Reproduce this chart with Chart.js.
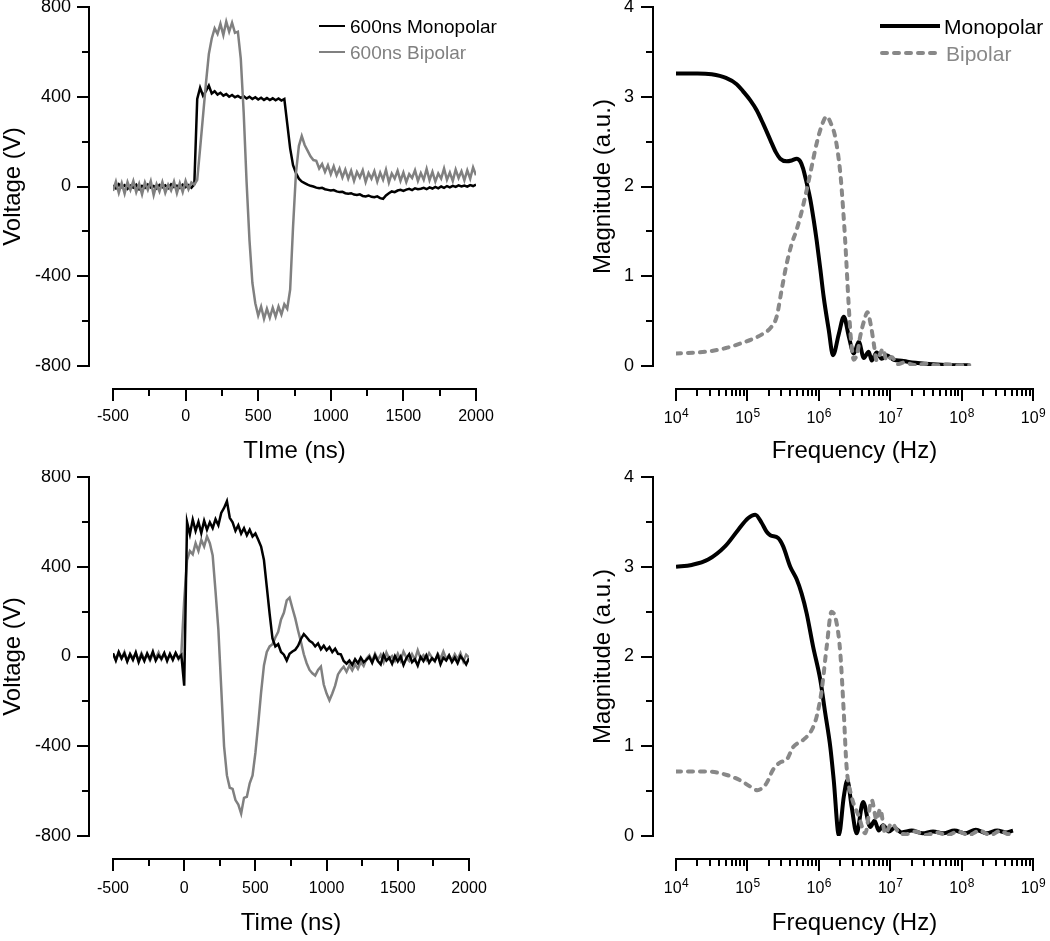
<!DOCTYPE html>
<html><head><meta charset="utf-8">
<script src="https://cdn.jsdelivr.net/npm/chart.js@4.4.1/dist/chart.umd.min.js"></script>
<style>
html,body{margin:0;padding:0;background:#fff;}
body{width:1050px;height:941px;position:relative;overflow:hidden;font-family:"Liberation Sans",Arial,Helvetica,sans-serif;}
.panel{position:absolute;}
.panel canvas{display:block;}
.lg{position:absolute;white-space:nowrap;line-height:1;}
.ls{position:absolute;}
</style></head><body>
<div class="panel" style="left:0;top:0"><canvas id="cTL" width="525" height="470"></canvas></div>
<div class="panel" style="left:525px;top:0"><canvas id="cTR" width="525" height="470"></canvas></div>
<div class="panel" style="left:0;top:470px"><canvas id="cBL" width="525" height="471"></canvas></div>
<div class="panel" style="left:525px;top:470px"><canvas id="cBR" width="525" height="471"></canvas></div>

<div class="ls" style="left:319px;top:25px;width:26px;height:2px;background:#000"></div>
<div class="lg" style="left:350px;top:16.5px;font-size:19px;color:#000">600ns Monopolar</div>
<div class="ls" style="left:319px;top:51px;width:26px;height:2px;background:#808080"></div>
<div class="lg" style="left:350px;top:43px;font-size:19px;color:#808080">600ns Bipolar</div>

<div class="ls" style="left:880px;top:24px;width:60px;height:4px;background:#000"></div>
<div class="lg" style="left:944px;top:15.5px;font-size:21px;color:#000">Monopolar</div>
<svg class="ls" style="left:880px;top:51px" width="60" height="4"><line x1="2" y1="2" x2="58" y2="2" stroke="#888" stroke-width="4" stroke-linecap="round" stroke-dasharray="5 7"/></svg>
<div class="lg" style="left:946px;top:43px;font-size:21px;color:#888">Bipolar</div>

<script>
// ---------------- DATA ----------------
const timeNs = [
  -500,-480,-460,-440,-420,-400,-380,-360,-340,-320,
  -300,-280,-260,-240,-220,-200,-180,-160,-140,-120,
  -100,-80,-60,-40,-20,0,20,40,60,80,
  100,120,140,160,180,200,220,240,260,280,
  300,320,340,360,380,400,420,440,460,480,
  500,520,540,560,580,600,620,640,660,680,
  700,720,740,760,780,800,820,840,860,880,
  900,920,940,960,980,1000,1020,1040,1060,1080,
  1100,1120,1140,1160,1180,1200,1220,1240,1260,1280,
  1300,1320,1340,1360,1380,1400,1420,1440,1460,1480,
  1500,1520,1540,1560,1580,1600,1620,1640,1660,1680,
  1700,1720,1740,1760,1780,1800,1820,1840,1860,1880,
  1900,1920,1940,1960,1980,2000
];

// Top-left: 600 ns pulses (V)
const tlMonopolarV = [
  5,-8,10,-3,6,-10,4,-5,8,-12,
  3,-6,9,-4,2,-9,7,-3,5,-7,
  10,-2,4,-6,8,-3,6,-5,10,390,
  440,405,425,450,415,425,410,418,405,412,
  400,408,398,404,395,402,392,400,390,398,
  388,396,386,394,385,393,384,392,383,390,
  280,170,95,60,35,22,15,8,3,0,
  -5,-8,-6,-12,-15,-18,-16,-22,-25,-24,
  -30,-32,-30,-36,-38,-35,-42,-44,-40,-46,
  -48,-44,-52,-55,-40,-30,-22,-25,-18,-15,
  -20,-14,-10,-16,-8,-12,-10,-6,-12,-4,
  -9,-2,-8,0,-6,2,-4,3,-2,5,
  0,4,-1,6,2,8
];
const tlBipolarV = [
  -20,22,-28,15,-32,20,-15,25,-25,12,
  -35,18,-15,24,-38,10,-22,20,-28,8,
  -18,22,-30,15,-25,25,-12,18,8,30,
  170,315,460,590,660,705,680,725,675,735,
  690,730,685,690,570,330,20,-240,-430,-520,
  -575,-535,-590,-545,-585,-540,-580,-535,-570,-525,
  -545,-460,-180,60,180,225,185,160,135,118,
  115,80,100,65,95,55,90,50,80,40,
  75,35,70,25,65,40,72,20,60,35,
  68,22,62,30,75,18,58,35,70,25,
  62,20,55,38,72,25,60,30,78,28,
  65,22,58,35,80,30,62,25,75,38,
  68,28,72,35,85,50
];

// Bottom-left pulses (V)
const blMonopolarV = [
  15,-18,20,-8,14,-22,10,-15,18,-25,
  8,-20,14,-12,22,-18,6,-10,16,-20,
  12,-15,16,-8,6,-130,600,545,610,560,
  600,550,605,565,598,572,612,585,640,662,
  692,618,598,560,585,548,572,540,565,535,
  548,520,490,430,310,190,80,45,55,20,
  8,-18,12,22,30,48,78,100,86,70,
  62,45,58,32,48,28,42,20,35,12,
  10,-20,-32,-18,-38,-12,-30,-5,-25,-15,
  -2,-28,5,-20,-35,8,-18,-5,-32,2,
  -22,0,-38,-8,10,-25,-12,-40,-2,-20,
  5,-28,-8,-20,8,-35,-5,-18,4,-25,
  -5,-30,2,-15,-35,-8
];
const blBipolarV = [
  10,-15,18,-10,20,-20,12,-8,14,-18,
  15,-12,8,-18,12,-8,18,-14,10,-12,
  6,-10,14,-12,15,250,430,470,455,505,
  470,520,490,535,505,450,290,120,-140,-400,
  -530,-585,-590,-640,-660,-700,-630,-625,-565,-530,
  -430,-300,-160,-40,20,45,55,85,110,165,
  195,250,262,215,170,115,65,10,-30,-60,
  -75,-85,-60,-45,-125,-165,-195,-165,-130,-80,
  -60,-45,-68,-40,-62,-35,-55,-25,-42,-10,
  5,-22,12,-15,8,-25,18,-10,2,-20,
  12,-18,22,-5,-20,10,-14,28,-8,6,
  -15,15,-5,-22,12,-10,22,-12,6,-18,
  10,-12,15,-22,8,-5
];

// Top-right spectra
const trMonoHz = [1.0e4,2.0e4,3.16e4,5.0e4,7.08e4,8.71e4,1.10e5,1.35e5,1.66e5,2.09e5,2.51e5,2.88e5,3.55e5,4.17e5,4.90e5,5.50e5,6.03e5,6.76e5,7.59e5,8.51e5,9.33e5,1.05e6,1.17e6,1.38e6,1.58e6,1.91e6,2.24e6,2.63e6,3.09e6,3.63e6,4.27e6,5.01e6,5.50e6,6.46e6,7.59e6,8.91e6,1.12e7,1.45e7,1.82e7,3.09e7,5.25e7,1.28e8];
const trMonoMag = [3.26,3.26,3.25,3.21,3.14,3.06,2.96,2.85,2.70,2.52,2.38,2.31,2.28,2.29,2.31,2.28,2.20,2.04,1.86,1.62,1.40,1.08,0.77,0.40,0.12,0.36,0.55,0.33,0.14,0.27,0.09,0.16,0.06,0.15,0.08,0.12,0.07,0.06,0.045,0.026,0.015,0.007];
const trBipHz = [1.0e4,2.69e4,5.0e4,7.94e4,1.26e5,1.66e5,2.14e5,2.57e5,3.02e5,3.55e5,4.17e5,4.90e5,5.75e5,6.76e5,7.94e5,9.33e5,1.10e6,1.29e6,1.48e6,1.70e6,2.0e6,2.19e6,2.34e6,2.63e6,2.82e6,3.09e6,3.47e6,3.80e6,4.37e6,4.79e6,5.37e6,5.89e6,6.46e6,7.24e6,7.94e6,8.91e6,1.05e7,1.26e7,1.58e7,2.24e7,3.16e7,4.47e7,6.31e7,8.91e7,1.28e8];
const trBipMag = [0.14,0.16,0.20,0.25,0.31,0.36,0.43,0.55,0.85,1.14,1.36,1.52,1.72,1.96,2.22,2.48,2.68,2.78,2.70,2.55,2.15,1.75,1.40,0.66,0.30,0.07,0.15,0.33,0.52,0.60,0.45,0.25,0.06,0.14,0.19,0.06,0.10,0.02,0.04,0.01,0.025,0.008,0.02,0.006,0.012];

// Bottom-right spectra
const brMonoHz = [1.0e4,1.66e4,2.82e4,4.90e4,7.41e4,1.02e5,1.29e5,1.58e5,1.86e5,2.09e5,2.69e5,3.16e5,3.98e5,4.90e5,5.75e5,6.76e5,8.32e5,1.05e6,1.23e6,1.45e6,1.62e6,1.91e6,2.24e6,2.51e6,2.88e6,3.39e6,4.17e6,5.25e6,6.03e6,6.92e6,7.94e6,9.55e6,1.15e7,1.45e7,2.0e7,2.82e7,3.98e7,5.62e7,7.94e7,1.12e8,1.58e8,2.24e8,3.16e8,4.17e8,5.25e8];
const brMonoMag = [3.00,3.02,3.08,3.23,3.41,3.54,3.58,3.49,3.39,3.35,3.32,3.23,3.00,2.86,2.70,2.48,2.11,1.74,1.37,0.99,0.62,0.01,0.44,0.62,0.33,0.03,0.38,0.10,0.17,0.06,0.12,0.05,0.09,0.04,0.06,0.03,0.05,0.03,0.06,0.03,0.07,0.03,0.06,0.04,0.06];
const brBipHz = [1.0e4,2.69e4,5.13e4,7.94e4,1.10e5,1.38e5,1.58e5,1.86e5,2.29e5,2.88e5,3.55e5,4.37e5,6.03e5,7.94e5,9.33e5,1.10e6,1.29e6,1.51e6,1.78e6,2.0e6,2.24e6,2.45e6,2.88e6,3.63e6,4.47e6,5.50e6,6.46e6,7.24e6,8.51e6,1.05e7,1.32e7,1.66e7,2.24e7,3.16e7,4.47e7,6.31e7,8.91e7,1.26e8,1.78e8,2.51e8,3.55e8,4.47e8,5.25e8];
const brBipMag = [0.72,0.72,0.68,0.62,0.55,0.51,0.53,0.59,0.74,0.82,0.85,0.99,1.07,1.18,1.33,1.63,2.11,2.50,2.37,2.04,1.37,0.77,0.44,0.22,0.03,0.40,0.18,0.30,0.03,0.14,0.04,0.02,0.05,0.01,0.04,0.01,0.05,0.01,0.06,0.01,0.06,0.02,0.05];

// Ticks
const voltTicks = [-800,-400,0,400,800];
const voltMinor = [-600,-200,200,600];
const timeTicks = [-500,0,500,1000,1500,2000];
const timeMinor = [-250,250,750,1250,1750];
const magTicks = [0,1,2,3,4];
const magMinor = [0.5,1.5,2.5,3.5];
const freqTicks = [1e4,1e5,1e6,1e7,1e8,1e9];
const freqTickBase = '10';
const freqTickExponents = ['4','5','6','7','8','9'];
const freqMinor = [];
for (let d = 4; d < 9; d++) for (let k = 2; k <= 9; k++) freqMinor.push(k * Math.pow(10, d));

// ---------------- CHARTS ----------------
const FONT = '"Liberation Sans", Arial, Helvetica, sans-serif';
Chart.defaults.font.family = FONT;
Chart.defaults.color = '#000';
const titleFont = {size: 24, lineHeight: 1.1};
const GRAY = '#808080';
const DASHGRAY = '#888888';

const pairs = (xs, ys) => xs.map((x, i) => ({x: x, y: ys[i]}));

const detachedAxes = {
  id: 'detachedAxes',
  afterDraw(chart, _a, o) {
    const {ctx, chartArea: ca} = chart;
    const xs = chart.scales.x, ys = chart.scales.y;
    ctx.save();
    ctx.strokeStyle = '#000';
    ctx.lineWidth = 2;
    ctx.lineCap = 'butt';
    ctx.beginPath();
    const ax = Math.round(ca.left - o.yGap);
    const yT = Math.round(ys.getPixelForValue(ys.max));
    const yB = Math.round(ys.getPixelForValue(ys.min));
    ctx.moveTo(ax, yT - 1); ctx.lineTo(ax, yB + 1);
    o.yMajor.forEach(v => { const p = Math.round(ys.getPixelForValue(v)); ctx.moveTo(ax + 1, p); ctx.lineTo(ax - o.major, p); });
    o.yMinor.forEach(v => { const p = Math.round(ys.getPixelForValue(v)); ctx.moveTo(ax + 1, p); ctx.lineTo(ax - o.minor, p); });
    const ay = Math.round(ca.bottom + o.xGap);
    const xL = Math.round(xs.getPixelForValue(xs.min));
    const xR = Math.round(xs.getPixelForValue(xs.max));
    ctx.moveTo(xL - 1, ay); ctx.lineTo(xR + 1, ay);
    o.xMajor.forEach(v => { const p = Math.round(xs.getPixelForValue(v)); ctx.moveTo(p, ay - 1); ctx.lineTo(p, ay + o.major); });
    o.xMinor.forEach(v => { const p = Math.round(xs.getPixelForValue(v)); ctx.moveTo(p, ay - 1); ctx.lineTo(p, ay + o.minor); });
    ctx.stroke();
    // power-of-ten tick labels with a raised exponent
    if (o.sup) {
      ctx.fillStyle = '#000';
      ctx.textBaseline = 'alphabetic';
      ctx.textAlign = 'left';
      const base = ca.bottom + o.sup.baseline;
      o.xMajor.forEach((v, i) => {
        const p = xs.getPixelForValue(v);
        ctx.font = o.sup.size + 'px ' + FONT;
        const w1 = ctx.measureText(o.sup.base).width;
        ctx.font = o.sup.supSize + 'px ' + FONT;
        const w2 = ctx.measureText(o.sup.exps[i]).width;
        const x0 = p - (w1 + w2) / 2;
        ctx.font = o.sup.size + 'px ' + FONT;
        ctx.fillText(o.sup.base, x0, base);
        ctx.font = o.sup.supSize + 'px ' + FONT;
        ctx.fillText(o.sup.exps[i], x0 + w1 + 0.5, base - o.sup.raise);
      });
    }
    ctx.restore();
  }
};

function build(id, o) {
  return new Chart(document.getElementById(id), {
    type: 'line',
    data: {datasets: o.datasets},
    options: {
      responsive: false, animation: false, devicePixelRatio: 1,
      layout: {padding: o.pad},
      elements: {point: {radius: 0}},
      plugins: {
        legend: {display: false}, tooltip: {enabled: false},
        detachedAxes: {yGap: o.yGap, xGap: 23, major: 12, minor: 7,
          yMajor: o.yTicks, yMinor: o.yMinor, xMajor: o.xTicks, xMinor: o.xMinor, sup: o.sup || null}
      },
      scales: {
        x: {
          type: o.xType, min: o.xMin, max: o.xMax,
          afterBuildTicks: s => { s.ticks = o.xTicks.map(v => ({value: v})); },
          afterFit: s => { s.height = o.xH; s.paddingLeft = 0; s.paddingRight = 0; },
          grid: {display: false, drawTicks: false},
          border: {display: false},
          ticks: {display: !o.sup, padding: o.xPad, autoSkip: false, maxRotation: 0, minRotation: 0,
            font: {size: 16}, color: '#000', callback: (v, i) => o.xLabels ? o.xLabels[i] : ''},
          title: {display: true, text: o.xTitle, font: titleFont, color: '#000', padding: 0}
        },
        y: {
          type: 'linear', min: o.yMin, max: o.yMax,
          afterBuildTicks: s => { s.ticks = o.yTicks.map(v => ({value: v})); },
          afterFit: s => { s.width = o.yW; s.paddingTop = 0; s.paddingBottom = 0; },
          grid: {display: false, drawTicks: false},
          border: {display: false},
          ticks: {padding: 42, font: {size: 18}, color: '#000', callback: v => String(v)},
          title: {display: true, text: o.yTitle, font: titleFont, color: '#000', padding: 0}
        }
      }
    },
    plugins: [detachedAxes]
  });
}

const timeLabels = timeTicks.map(String);

build('cTL', {
  pad: {left: 0, top: 7, right: 49, bottom: 5}, yW: 113, xH: 99, yGap: 24, xPad: 41,
  xType: 'linear', xMin: -500, xMax: 2000, xTicks: timeTicks, xMinor: timeMinor, xLabels: timeLabels, xTitle: 'TIme (ns)',
  yMin: -800, yMax: 800, yTicks: voltTicks, yMinor: voltMinor, yTitle: 'Voltage (V)',
  datasets: [
    {label: '600ns Monopolar', data: pairs(timeNs, tlMonopolarV), borderColor: '#000', borderWidth: 2.5, order: 2},
    {label: '600ns Bipolar', data: pairs(timeNs, tlBipolarV), borderColor: GRAY, borderWidth: 2.5, order: 1}
  ]
});

build('cBL', {
  pad: {left: 0, top: 7, right: 56, bottom: 4}, yW: 113, xH: 101, yGap: 24, xPad: 43,
  xType: 'linear', xMin: -500, xMax: 2000, xTicks: timeTicks, xMinor: timeMinor, xLabels: timeLabels, xTitle: 'Time (ns)',
  yMin: -800, yMax: 800, yTicks: voltTicks, yMinor: voltMinor, yTitle: 'Voltage (V)',
  datasets: [
    {label: 'Monopolar', data: pairs(timeNs, blMonopolarV), borderColor: '#000', borderWidth: 2.5, order: 1},
    {label: 'Bipolar', data: pairs(timeNs, blBipolarV), borderColor: GRAY, borderWidth: 2.5, order: 2}
  ]
});

function specSets(mHz, mMag, bHz, bMag) {
  return [
    {label: 'Monopolar', data: pairs(mHz, mMag), borderColor: '#000', borderWidth: 4,
      cubicInterpolationMode: 'monotone', borderJoinStyle: 'round', order: 2},
    {label: 'Bipolar', data: pairs(bHz, bMag), borderColor: DASHGRAY, borderWidth: 4,
      borderDash: [5, 7], borderCapStyle: 'round', borderJoinStyle: 'round',
      cubicInterpolationMode: 'monotone', order: 1}
  ];
}

const supTop = {base: freqTickBase, exps: freqTickExponents, size: 16, supSize: 12, baseline: 57, raise: 6};

build('cTR', {
  pad: {left: 65, top: 7, right: 17, bottom: 5}, yW: 86, xH: 99, yGap: 23, xPad: 41,
  xType: 'logarithmic', xMin: 1e4, xMax: 1e9, xTicks: freqTicks, xMinor: freqMinor, xTitle: 'Frequency (Hz)',
  sup: supTop,
  yMin: 0, yMax: 4, yTicks: magTicks, yMinor: magMinor, yTitle: 'Magnitude (a.u.)',
  datasets: specSets(trMonoHz, trMonoMag, trBipHz, trBipMag)
});

build('cBR', {
  pad: {left: 65, top: 7, right: 17, bottom: 4}, yW: 86, xH: 101, yGap: 23, xPad: 43,
  xType: 'logarithmic', xMin: 1e4, xMax: 1e9, xTicks: freqTicks, xMinor: freqMinor, xTitle: 'Frequency (Hz)',
  sup: supTop,
  yMin: 0, yMax: 4, yTicks: magTicks, yMinor: magMinor, yTitle: 'Magnitude (a.u.)',
  datasets: specSets(brMonoHz, brMonoMag, brBipHz, brBipMag)
});
</script>
</body></html>
